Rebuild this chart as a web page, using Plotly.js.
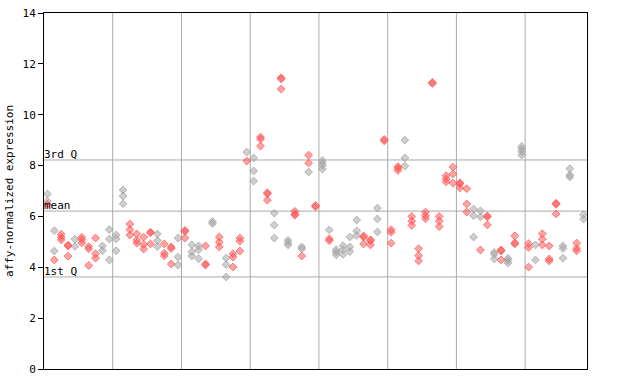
<!DOCTYPE html>
<html><head><meta charset="utf-8">
<script src="https://cdn.plot.ly/plotly-3.0.1.min.js"></script>
<style>html,body{margin:0;padding:0;background:#fff}#chart{width:640px;height:384px}</style>
</head><body><div id="chart"></div>
<script>
// column index of each sample group (0..78)
var grayX = [0,0, 1,1, 4,4, 8,8, 9,9,9, 10,10,10, 11,11,11, 16,16,16, 19,19,19, 21,21,21, 22,22,22, 24,24, 26,26,26, 29, 30,30,30, 33,33,33, 35,35,35, 37,37, 38, 40,40,40,40, 41, 42,42,42, 43,43,43, 44,44,44, 45,45,45, 48,48,48, 52,52,52, 62,62,62, 63,63, 65,65,65, 67,67,67, 69,69,69,69, 71,71, 75,75,75, 76,76,76, 78,78];
var grayY = [6.88,6.6, 5.44,4.64, 5.11,4.82, 4.84,4.66, 5.48,5.11,4.29, 5.27,5.12,4.65, 7.04,6.8,6.5, 5.31,5.05,4.82, 5.15,4.4,4.09, 4.88,4.61,4.44, 4.84,4.69,4.34, 5.8,5.72, 4.36,4.1,3.62, 8.53, 8.3,7.79,7.39, 6.13,5.66,5.15, 5.06,4.97,4.88, 4.8,4.72, 7.75, 8.2,8.1,8.0,7.86, 5.47, 4.69,4.6,4.49, 4.85,4.69,4.51, 5.19,4.8,4.62, 5.86,5.43,5.25, 6.33,5.9,5.39, 9.0,8.3,7.98, 6.29,6.03,5.19, 6.22,5.98, 4.59,4.51,4.33, 4.35,4.27,4.17, 8.75,8.65,8.54,8.41, 4.88,4.29, 4.84,4.74,4.36, 7.88,7.63,7.55, 6.07,5.9];
var redX = [0, 1, 2,2,2, 3,3,3, 5,5,5, 6,6,6, 7,7,7, 12,12,12, 13,13,13, 14,14,14, 15,15,15, 17,17,17, 18,18,18, 20,20,20, 23,23,23, 25,25,25, 27,27,27, 28,28,28, 29, 31,31,31, 32,32,32, 34,34,34, 36,36,36, 37, 38,38, 39,39, 41,41, 46,46,46, 47,47,47, 49,49, 50,50,50, 51,51,51, 53,53,53, 54,54,54, 55,55,55, 56,56, 57,57,57, 58,58,58, 59,59,59, 60,60,60, 61,61,61, 63, 64,64,64, 66,66,66, 68,68,68, 70,70,70, 72,72,72, 73,73,73, 74,74,74, 77,77,77];
var redY = [6.48, 4.29, 5.3,5.18,5.08, 4.87,4.84,4.44, 5.18,5.09,4.96, 4.81,4.73,4.07, 5.15,4.53,4.36, 5.7,5.48,5.27, 5.31,5.06,4.95, 5.19,4.9,4.72, 5.38,5.36,4.92, 4.92,4.55,4.45, 4.8,4.74,4.13, 5.45,5.41,5.15, 4.84,4.13,4.09, 5.19,4.99,4.8, 4.53,4.4,4.01, 5.15,5.03,4.64, 8.18, 9.12,9.04,8.77, 6.93,6.89,6.64, 11.45,11.41,11.01, 6.2,6.1,6.05, 4.44, 8.41,8.1, 6.43,6.38, 5.12,5.05, 5.23,5.19,4.92, 5.08,5.04,4.88, 9.03,8.97, 5.48,5.38,4.95, 7.96,7.9,7.81, 6.0,5.82,5.65, 4.73,4.46,4.25, 6.17,6.03,5.91, 11.27,11.23, 6.0,5.82,5.6, 7.6,7.47,7.36, 7.94,7.67,7.31, 7.32,7.28,7.12, 7.09,6.49,6.17, 4.68, 6.02,5.98,5.67, 4.68,4.64,4.29, 5.24,4.96,4.92, 4.93,4.78,4.01, 5.32,5.11,4.88, 4.84,4.33,4.25, 6.52,6.48,6.1, 4.95,4.74,4.65];
var groupBounds = [9.5,19.5,29.5,39.5,49.5,59.5,69.5];
var statNames = ["3rd Q","mean","1st Q"];
var statValues = [8.22,6.21,3.62];
var yTicks = [0,2,4,6,8,10,12,14];

var font = "DejaVu Sans Mono, monospace";
var shapes = [], annotations = [];
groupBounds.forEach(function(b){
  shapes.push({type:"line",xref:"x",yref:"paper",x0:b,x1:b,y0:0,y1:1,line:{color:"#aaaaaa",width:1},layer:"below"});
});
statValues.forEach(function(v,i){
  shapes.push({type:"line",xref:"paper",yref:"y",x0:0,x1:1,y0:v,y1:v,line:{color:"#aaaaaa",width:1},layer:"below"});
  annotations.push({xref:"paper",yref:"y",x:0,y:v,text:statNames[i],showarrow:false,xanchor:"left",yanchor:"bottom",xshift:-2,yshift:-3,font:{family:font,size:11,color:"#000"}});
});
var traces = [
  {type:"scatter",mode:"markers",x:grayX,y:grayY,marker:{symbol:"diamond",size:6,color:"rgba(165,165,165,0.55)",line:{width:0.8,color:"rgba(160,160,160,0.9)"}},hoverinfo:"y"},
  {type:"scatter",mode:"markers",x:redX,y:redY,marker:{symbol:"diamond",size:6,color:"rgba(255,90,90,0.55)",line:{width:0.8,color:"rgba(255,80,80,0.9)"}},hoverinfo:"y"}
];
var layout = {
  width:640,height:384,margin:{l:44,r:53,t:13,b:15},
  paper_bgcolor:"#fff",plot_bgcolor:"#fff",showlegend:false,
  xaxis:{range:[-0.5,78.5],showgrid:false,zeroline:false,showticklabels:false,ticks:"",showline:true,linecolor:"#000",linewidth:1,mirror:true,fixedrange:true},
  yaxis:{range:[0,14],tickvals:yTicks,ticktext:yTicks.map(String),showgrid:false,zeroline:false,ticks:"outside",ticklen:5,tickcolor:"#000",showline:true,linecolor:"#000",linewidth:1,mirror:true,
    tickfont:{family:font,size:11,color:"#000"},
    title:{text:"affy-normalized expression",font:{family:font,size:11,color:"#000"},standoff:6}},
  shapes:shapes,annotations:annotations
};
Plotly.newPlot("chart",traces,layout,{staticPlot:true,displayModeBar:false});
</script></body></html>
